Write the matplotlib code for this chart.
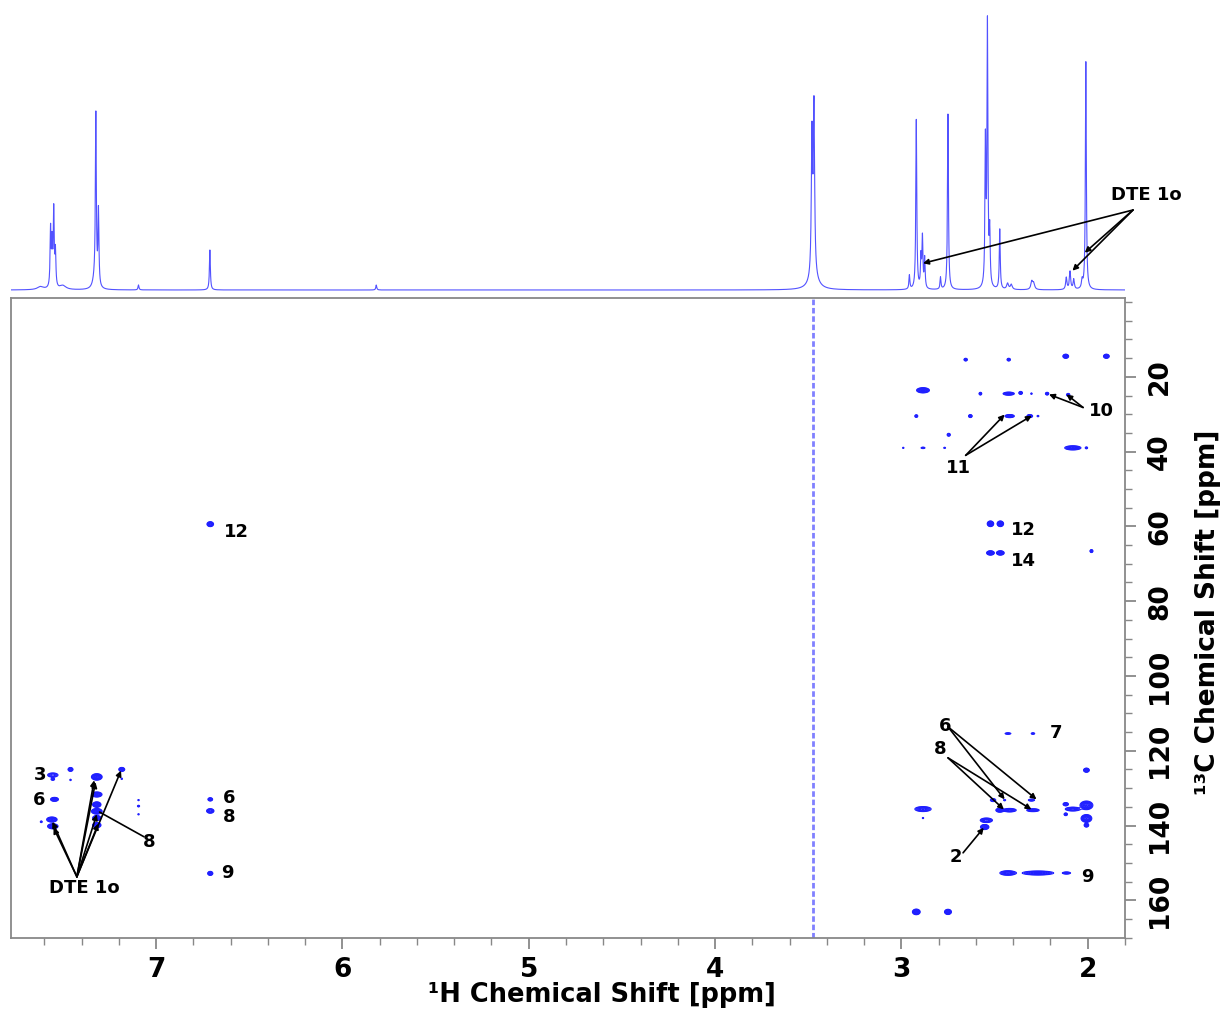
import matplotlib
matplotlib.use("Agg")
import matplotlib.pyplot as plt
import numpy as np
from matplotlib.ticker import FixedLocator, MultipleLocator

# 1H spectrum (top trace): peak shift [ppm], height, half width [ppm]
h1_shift = [7.566, 7.558, 7.549, 7.540, 7.62, 7.50, 7.323, 7.309, 7.33, 7.094, 6.711, 5.818,
            3.480, 3.469, 3.47, 2.957, 2.920, 2.895, 2.887, 2.875, 2.79, 2.750,
            2.549, 2.538, 2.526, 2.472, 2.43, 2.41, 2.30, 2.29, 2.115, 2.095, 2.075,
            2.03, 2.010]
h1_height = [58, 42, 76, 35, 3, 4, 170, 75, 8, 5, 40, 5,
             140, 168, 10, 14, 170, 30, 50, 30, 12, 176,
             142, 262, 52, 60, 6, 5, 8, 6, 12, 18, 10,
             8, 228]
h1_width = [0.003, 0.003, 0.003, 0.003, 0.02, 0.02, 0.003, 0.003, 0.012, 0.003, 0.003, 0.003,
            0.004, 0.004, 0.03, 0.003, 0.003, 0.003, 0.003, 0.003, 0.003, 0.003,
            0.003, 0.003, 0.003, 0.003, 0.006, 0.006, 0.006, 0.006, 0.004, 0.004, 0.004,
            0.004, 0.003]

# 2D cross peaks: 1H shift, 13C shift, intensity, line widths (1H px, 13C px)
cross_h = [7.554, 7.554, 7.459, 7.459, 7.545, 7.559, 7.554, 7.616,
           7.318, 7.318, 7.318, 7.318, 7.318, 7.318, 7.184, 7.184,
           7.094, 7.094, 7.094, 6.709, 6.709, 6.709, 6.709,
           2.655, 2.424, 2.118, 1.900, 2.884, 2.576, 2.424, 2.360, 2.302, 2.218, 2.105,
           2.920, 2.630, 2.419, 2.311, 2.267, 2.746, 2.990, 2.884, 2.768, 2.080, 2.007,
           2.522, 2.469, 2.522, 2.469, 1.980, 2.428, 2.294,
           2.884, 2.884, 2.508, 2.446, 2.302, 2.472, 2.419, 2.294, 2.544, 2.553,
           2.428, 2.267, 2.114, 2.118, 2.118, 2.080, 2.007, 2.007, 2.007, 2.007,
           2.920, 2.750]
cross_c = [126.5, 127.6, 125.0, 127.8, 133.0, 138.4, 140.2, 139.0,
           127.0, 131.7, 134.4, 136.2, 138.0, 139.9, 125.0, 127.5,
           133.2, 134.8, 137.0, 133.0, 136.1, 152.8, 59.4,
           15.4, 15.4, 14.5, 14.5, 23.6, 24.5, 24.5, 24.3, 24.5, 24.5, 24.8,
           30.5, 30.5, 30.5, 30.5, 30.5, 35.5, 39.0, 39.0, 39.0, 39.0, 39.0,
           59.3, 59.3, 67.1, 67.1, 66.6, 115.4, 115.4,
           135.6, 138.0, 133.2, 133.2, 133.2, 135.9, 135.9, 135.9, 138.6, 140.4,
           152.7, 152.7, 152.7, 134.3, 137.0, 135.6, 125.2, 134.6, 138.1, 139.9,
           163.1, 163.1]
cross_amp = [0.45, 0.3, 0.6, 0.2, 0.7, 0.9, 0.9, 0.25,
             1.0, 0.9, 0.9, 1.0, 0.9, 0.9, 0.7, 0.2,
             0.2, 0.25, 0.2, 0.5, 0.8, 0.7, 0.8,
             0.4, 0.4, 0.8, 0.8, 1.0, 0.4, 0.6, 0.5, 0.2, 0.4, 0.4,
             0.3, 0.5, 0.6, 0.6, 0.2, 0.35, 0.2, 0.25, 0.2, 0.8, 0.3,
             1.0, 1.0, 1.0, 1.0, 0.5, 0.3, 0.3,
             0.8, 0.2, 0.5, 0.25, 0.35, 0.7, 0.6, 0.5, 0.8, 0.9,
             0.8, 0.7, 0.4, 0.5, 0.4, 0.6, 0.8, 1.0, 1.0, 0.6,
             1.0, 1.0]
cross_wh = [3.0, 1.2, 1.3, 0.6, 2.0, 2.5, 2.5, 0.7,
            2.5, 2.5, 2.0, 2.5, 2.0, 2.0, 1.5, 0.6,
            0.6, 0.8, 0.6, 1.3, 1.8, 1.3, 1.6,
            1.0, 1.0, 1.4, 1.4, 3.0, 0.8, 3.0, 1.0, 0.6, 1.0, 1.0,
            1.0, 1.0, 2.5, 1.5, 0.8, 1.0, 0.6, 1.5, 0.8, 4.0, 0.8,
            1.5, 1.5, 1.8, 1.8, 0.8, 2.0, 1.2,
            4.0, 0.6, 1.5, 0.8, 2.0, 2.0, 3.5, 3.5, 3.0, 2.0,
            4.0, 8.0, 2.5, 1.5, 1.0, 4.0, 1.4, 3.0, 2.5, 1.2,
            1.8, 1.6]
cross_wc = [1.2, 0.8, 1.0, 0.6, 1.0, 1.2, 1.2, 0.6,
            1.5, 1.2, 1.3, 1.3, 1.2, 1.2, 1.0, 0.6,
            0.5, 0.6, 0.5, 0.9, 1.1, 1.0, 1.2,
            0.8, 0.8, 1.0, 1.0, 1.2, 0.8, 0.8, 0.8, 0.6, 0.8, 0.8,
            0.9, 0.8, 0.8, 0.8, 0.6, 0.9, 0.5, 0.5, 0.5, 1.0, 0.6,
            1.3, 1.3, 1.0, 1.0, 0.8, 0.5, 0.5,
            1.2, 0.5, 0.8, 0.5, 0.6, 1.0, 0.9, 0.8, 1.1, 1.2,
            1.1, 1.0, 0.6, 0.9, 0.8, 1.0, 1.0, 2.0, 1.8, 1.0,
            1.3, 1.2]

solvent_t1_noise = 3.473

x_lim = (7.78, 1.80)
y_lim = (170, -1)
W, H = 1226, 1009

fig = plt.figure(figsize=(W / 100, H / 100), dpi=100)
ax_l, ax_r = 10.7 / W, 1125 / W
ax = fig.add_axes([ax_l, (H - 937.7) / H, ax_r - ax_l, (937.7 - 298.3) / H])
axt = fig.add_axes([ax_l, (H - 293) / H, ax_r - ax_l, 293 / H])

# top 1D trace
x = np.linspace(x_lim[1], x_lim[0], 16000)
spec = np.zeros_like(x)
for s, h, g in zip(h1_shift, h1_height, h1_width):
    spec += h * g ** 2 / ((x - s) ** 2 + g ** 2)
axt.plot(x, spec, color="#5252ff", lw=0.8)
axt.set_xlim(*x_lim)
axt.set_ylim(-3, 290)
axt.axis("off")

arrow = dict(arrowstyle="-|>", color="black", lw=1.2, mutation_scale=8, shrinkA=0, shrinkB=0)
line = dict(arrowstyle="-", color="black", lw=1.2, shrinkA=0, shrinkB=0)
bold = dict(fontsize=13, fontweight="bold", ha="center", va="center")

axt.text(1.685, 95, "DTE 1o", clip_on=False, **bold)
for tx, ty in [(2.884, 26.7), (2.016, 37.3), (2.082, 19.3)]:
    axt.annotate("", xy=(tx, ty), xytext=(1.757, 80), arrowprops=arrow, annotation_clip=False)

# 2D contour map
gx = np.linspace(x_lim[1], x_lim[0], 2400)
gy = np.linspace(y_lim[1], y_lim[0], 1300)
Z = np.zeros((gy.size, gx.size))
px_h = 1 / 186.3
px_c = 1 / 3.74
for h, c, a, wh, wc in zip(cross_h, cross_c, cross_amp, cross_wh, cross_wc):
    Z += a * np.outer(np.exp(-0.5 * ((gy - c) / (wc * px_c)) ** 2),
                      np.exp(-0.5 * ((gx - h) / (wh * px_h)) ** 2))
ax.contour(gx, gy, Z, levels=[0.1, 0.16, 0.24, 0.34, 0.46, 0.6, 0.78, 0.95],
           colors="#2020ff", linewidths=0.8)
ax.axvline(solvent_t1_noise, color="#6060ff", lw=2.0, ls=(0, (2, 1)), alpha=0.8)

ax.set_xlim(*x_lim)
ax.set_ylim(*y_lim)
ax.xaxis.set_major_locator(FixedLocator([2, 3, 4, 5, 6, 7]))
ax.xaxis.set_minor_locator(MultipleLocator(0.2))
ax.yaxis.set_major_locator(FixedLocator([20, 40, 60, 80, 100, 120, 140, 160]))
ax.yaxis.set_minor_locator(MultipleLocator(5))
ax.yaxis.tick_right()
for sp in ax.spines.values():
    sp.set_color("#888888")
    sp.set_linewidth(1.3)
ax.tick_params(which="major", length=8, width=1.3, color="#888888", labelsize=19, pad=6)
ax.tick_params(axis="y", which="major", pad=8)
ax.tick_params(which="minor", length=5, width=1.0, color="#888888")
for t in ax.get_xticklabels():
    t.set_fontweight("bold")
for t in ax.get_yticklabels():
    t.set_fontweight("bold")
    t.set_rotation(90)
    t.set_va("center")

fig.text(602 / W, 1 - 995 / H, "¹H Chemical Shift [ppm]", fontsize=18.5, fontweight="bold",
         ha="center", va="center")
fig.text(1208 / W, 1 - 612 / H, "¹³C Chemical Shift [ppm]", fontsize=19, fontweight="bold",
         ha="center", va="center", rotation=90)

# peak labels
labels = [("3", 7.625, 126.5), ("6", 7.625, 133.2), ("DTE 1o", 7.384, 156.8),
          ("8", 7.035, 144.4), ("6", 6.61, 132.6), ("8", 6.61, 137.8), ("9", 6.616, 152.8),
          ("12", 6.568, 61.5), ("10", 1.927, 29.1), ("11", 2.693, 44.3), ("12", 2.347, 60.9),
          ("14", 2.347, 69.2), ("7", 2.172, 115.2), ("6", 2.768, 113.4), ("8", 2.79, 119.6),
          ("2", 2.709, 148.4), ("9", 2.0, 153.7)]
for s, lx, ly in labels:
    ax.text(lx, ly, s, **bold)

pointers = [
    ((7.425, 153.7), [(7.556, 139.0), (7.550, 140.6), (7.332, 127.9), (7.325, 128.4),
                      (7.318, 137.0), (7.310, 139.5), (7.188, 125.3)], arrow),
    ((7.065, 143.0), [(7.303, 136.4)], line),
    ((2.025, 28.2), [(2.208, 24.7), (2.114, 24.7)], arrow),
    ((2.655, 41.0), [(2.446, 30.1), (2.30, 30.4)], arrow),
    ((2.75, 113.6), [(2.446, 133.0), (2.275, 133.0)], arrow),
    ((2.75, 121.9), [(2.45, 135.7), (2.302, 135.7)], arrow),
    ((2.669, 147.3), [(2.558, 140.6)], arrow),
]
for start, targets, style in pointers:
    for t in targets:
        ax.annotate("", xy=t, xytext=start, arrowprops=style)

fig.savefig("out.png", dpi=100)
